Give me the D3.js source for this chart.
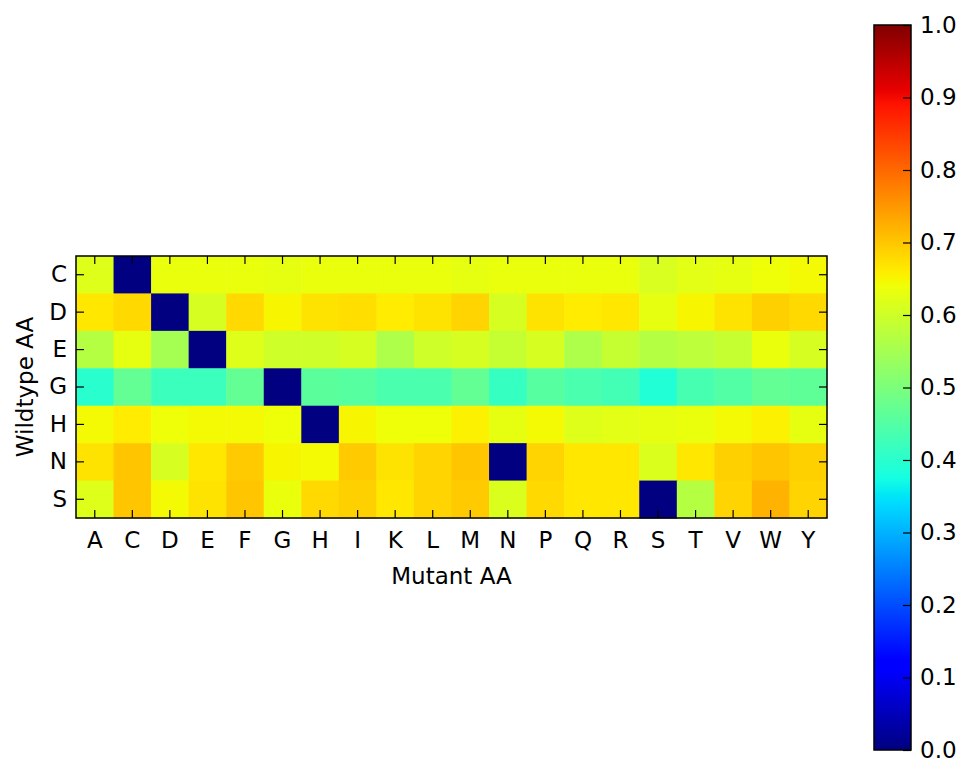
<!DOCTYPE html>
<html>
<head>
<meta charset="utf-8">
<script src="https://cdn.jsdelivr.net/npm/d3@7"></script>
<style>
    body { margin: 0; background: #fff; overflow: hidden; }
    text { font-family: 'DejaVu Sans', sans-serif; fill: #000; }
</style>
</head>
<body>
<div id="viz"></div>
<script>

// wildtype (rows) and mutant (columns) amino acids
var wildtype = ['C', 'D', 'E', 'G', 'H', 'N', 'S'];
var mutant = ['A','C','D','E','F','G','H','I','K','L','M','N','P','Q','R','S','T','V','W','Y'];

// one row of scores per wildtype residue
var rowC = [0.62, 0, 0.635, 0.635, 0.635, 0.63, 0.635, 0.635, 0.635, 0.635, 0.63, 0.635, 0.635, 0.635, 0.635, 0.612, 0.625, 0.63, 0.64, 0.645];
var rowD = [0.665, 0.68, 0, 0.61, 0.68, 0.65, 0.67, 0.675, 0.66, 0.67, 0.685, 0.61, 0.67, 0.66, 0.665, 0.63, 0.65, 0.67, 0.69, 0.68];
var rowE = [0.57, 0.63, 0.55, 0, 0.62, 0.60, 0.60, 0.61, 0.56, 0.60, 0.61, 0.59, 0.61, 0.56, 0.59, 0.57, 0.58, 0.59, 0.635, 0.61];
var rowG = [0.40, 0.47, 0.42, 0.42, 0.47, 0, 0.46, 0.455, 0.44, 0.44, 0.47, 0.415, 0.455, 0.44, 0.43, 0.39, 0.435, 0.45, 0.47, 0.465];
var rowH = [0.645, 0.66, 0.64, 0.645, 0.645, 0.64, 0, 0.65, 0.64, 0.64, 0.655, 0.63, 0.645, 0.62, 0.625, 0.63, 0.635, 0.645, 0.655, 0.63];
var rowN = [0.67, 0.70, 0.61, 0.665, 0.695, 0.65, 0.645, 0.695, 0.67, 0.685, 0.70, 0, 0.685, 0.665, 0.665, 0.615, 0.665, 0.69, 0.70, 0.69];
var rowS = [0.62, 0.70, 0.645, 0.67, 0.70, 0.635, 0.68, 0.69, 0.665, 0.685, 0.695, 0.615, 0.68, 0.665, 0.665, 0, 0.57, 0.685, 0.72, 0.685];

var colorbarTicks = [0, 0.1, 0.2, 0.3, 0.4, 0.5, 0.6, 0.7, 0.8, 0.9, 1.0];

var rows = [rowC, rowD, rowE, rowG, rowH, rowN, rowS];

// flatten to cells
var cells = [];
rows.forEach(function(r, i) {
    r.forEach(function(v, j) {
        cells.push({wt: wildtype[i], mt: mutant[j], v: v});
    });
});

// jet colormap (matplotlib segment data)
var jetR = d3.scaleLinear().domain([0, 0.35, 0.66, 0.89, 1]).range([0, 0, 1, 1, 0.5]).clamp(true);
var jetG = d3.scaleLinear().domain([0, 0.125, 0.375, 0.64, 0.91, 1]).range([0, 0, 1, 1, 0, 0]).clamp(true);
var jetB = d3.scaleLinear().domain([0, 0.11, 0.34, 0.65, 1]).range([0.5, 1, 1, 0, 0]).clamp(true);

function jet(v) {
    return d3.rgb(jetR(v) * 255, jetG(v) * 255, jetB(v) * 255).toString();
}

var W = 963, H = 763;
var fontSize = '23px';

var svg = d3.select('#viz')
    .append('svg')
    .attr('width', W)
    .attr('height', H)
    ;

// heatmap area (note: "top" is taken by window.top)
var pLeft = 76, pRight = 827, pTop = 256, pBottom = 518;

var x = d3.scaleBand().domain(mutant).range([pLeft, pRight]);
var y = d3.scaleBand().domain(wildtype).range([pTop, pBottom]);

svg.append('g')
    .selectAll('rect')
    .data(cells)
    .enter()
    .append('rect')
    .attr('x', function(d) { return x(d.mt); })
    .attr('y', function(d) { return y(d.wt); })
    .attr('width', x.bandwidth() + 0.5)
    .attr('height', y.bandwidth() + 0.5)
    .attr('fill', function(d) { return jet(d.v); })
    ;

// ticks inside on all four sides
var tickLen = 8;

var xAxisB = d3.axisBottom(x).tickSizeInner(-tickLen).tickSizeOuter(0).tickPadding(14);
var xAxisT = d3.axisTop(x).tickSizeInner(-tickLen).tickSizeOuter(0).tickFormat('');
var yAxisL = d3.axisLeft(y).tickSizeInner(-tickLen).tickSizeOuter(0).tickPadding(9);
var yAxisR = d3.axisRight(y).tickSizeInner(-tickLen).tickSizeOuter(0).tickFormat('');

svg.append('g').attr('transform', 'translate(0,' + pBottom + ')').call(xAxisB);
svg.append('g').attr('transform', 'translate(0,' + pTop + ')').call(xAxisT);
svg.append('g').attr('transform', 'translate(' + pLeft + ',0)').call(yAxisL);
svg.append('g').attr('transform', 'translate(' + pRight + ',0)').call(yAxisR);

svg.selectAll('.domain').remove();
svg.selectAll('.tick line').attr('stroke', '#000').attr('stroke-width', 1.2);
svg.selectAll('.tick text')
    .style('font-size', fontSize)
    .style('font-family', "'DejaVu Sans', sans-serif")
    ;

// frame
svg.append('rect')
    .attr('x', pLeft)
    .attr('y', pTop)
    .attr('width', pRight - pLeft)
    .attr('height', pBottom - pTop)
    .attr('fill', 'none')
    .attr('stroke', '#000')
    .attr('stroke-width', 1.5)
    ;

// axis titles
svg.append('text')
    .text('Mutant AA')
    .attr('x', (pLeft + pRight) / 2)
    .attr('y', 584)
    .attr('text-anchor', 'middle')
    .style('font-size', fontSize)
    ;

svg.append('text')
    .text('Wildtype AA')
    .attr('transform', 'translate(33,' + ((pTop + pBottom) / 2) + ') rotate(-90)')
    .attr('text-anchor', 'middle')
    .style('font-size', fontSize)
    ;

// colorbar
var cbLeft = 874, cbRight = 911, cbTop = 25, cbBottom = 750;

var cy = d3.scaleLinear().domain([0, 1]).range([cbBottom, cbTop]);

var grad = svg.append('defs')
    .append('linearGradient')
    .attr('id', 'jetgrad')
    .attr('x1', 0).attr('y1', 1)
    .attr('x2', 0).attr('y2', 0)
    ;

var stops = [0, 0.11, 0.125, 0.34, 0.35, 0.375, 0.64, 0.65, 0.66, 0.89, 0.91, 1];
grad.selectAll('stop')
    .data(stops)
    .enter()
    .append('stop')
    .attr('offset', function(d) { return d; })
    .attr('stop-color', function(d) { return jet(d); })
    ;

svg.append('rect')
    .attr('x', cbLeft)
    .attr('y', cbTop)
    .attr('width', cbRight - cbLeft)
    .attr('height', cbBottom - cbTop)
    .attr('fill', 'url(#jetgrad)')
    .attr('stroke', '#000')
    .attr('stroke-width', 1.5)
    ;

var cbAxis = d3.axisRight(cy)
    .tickValues(colorbarTicks)
    .tickFormat(d3.format('.1f'))
    .tickSizeInner(-tickLen)
    .tickSizeOuter(0)
    .tickPadding(9)
    ;

var cbg = svg.append('g')
    .attr('transform', 'translate(' + cbRight + ',0)')
    .call(cbAxis)
    ;

cbg.select('.domain').remove();
cbg.selectAll('.tick line').attr('stroke', '#000').attr('stroke-width', 1.2);
cbg.selectAll('.tick text')
    .style('font-size', fontSize)
    .style('font-family', "'DejaVu Sans', sans-serif")
    ;

</script>
</body>
</html>
